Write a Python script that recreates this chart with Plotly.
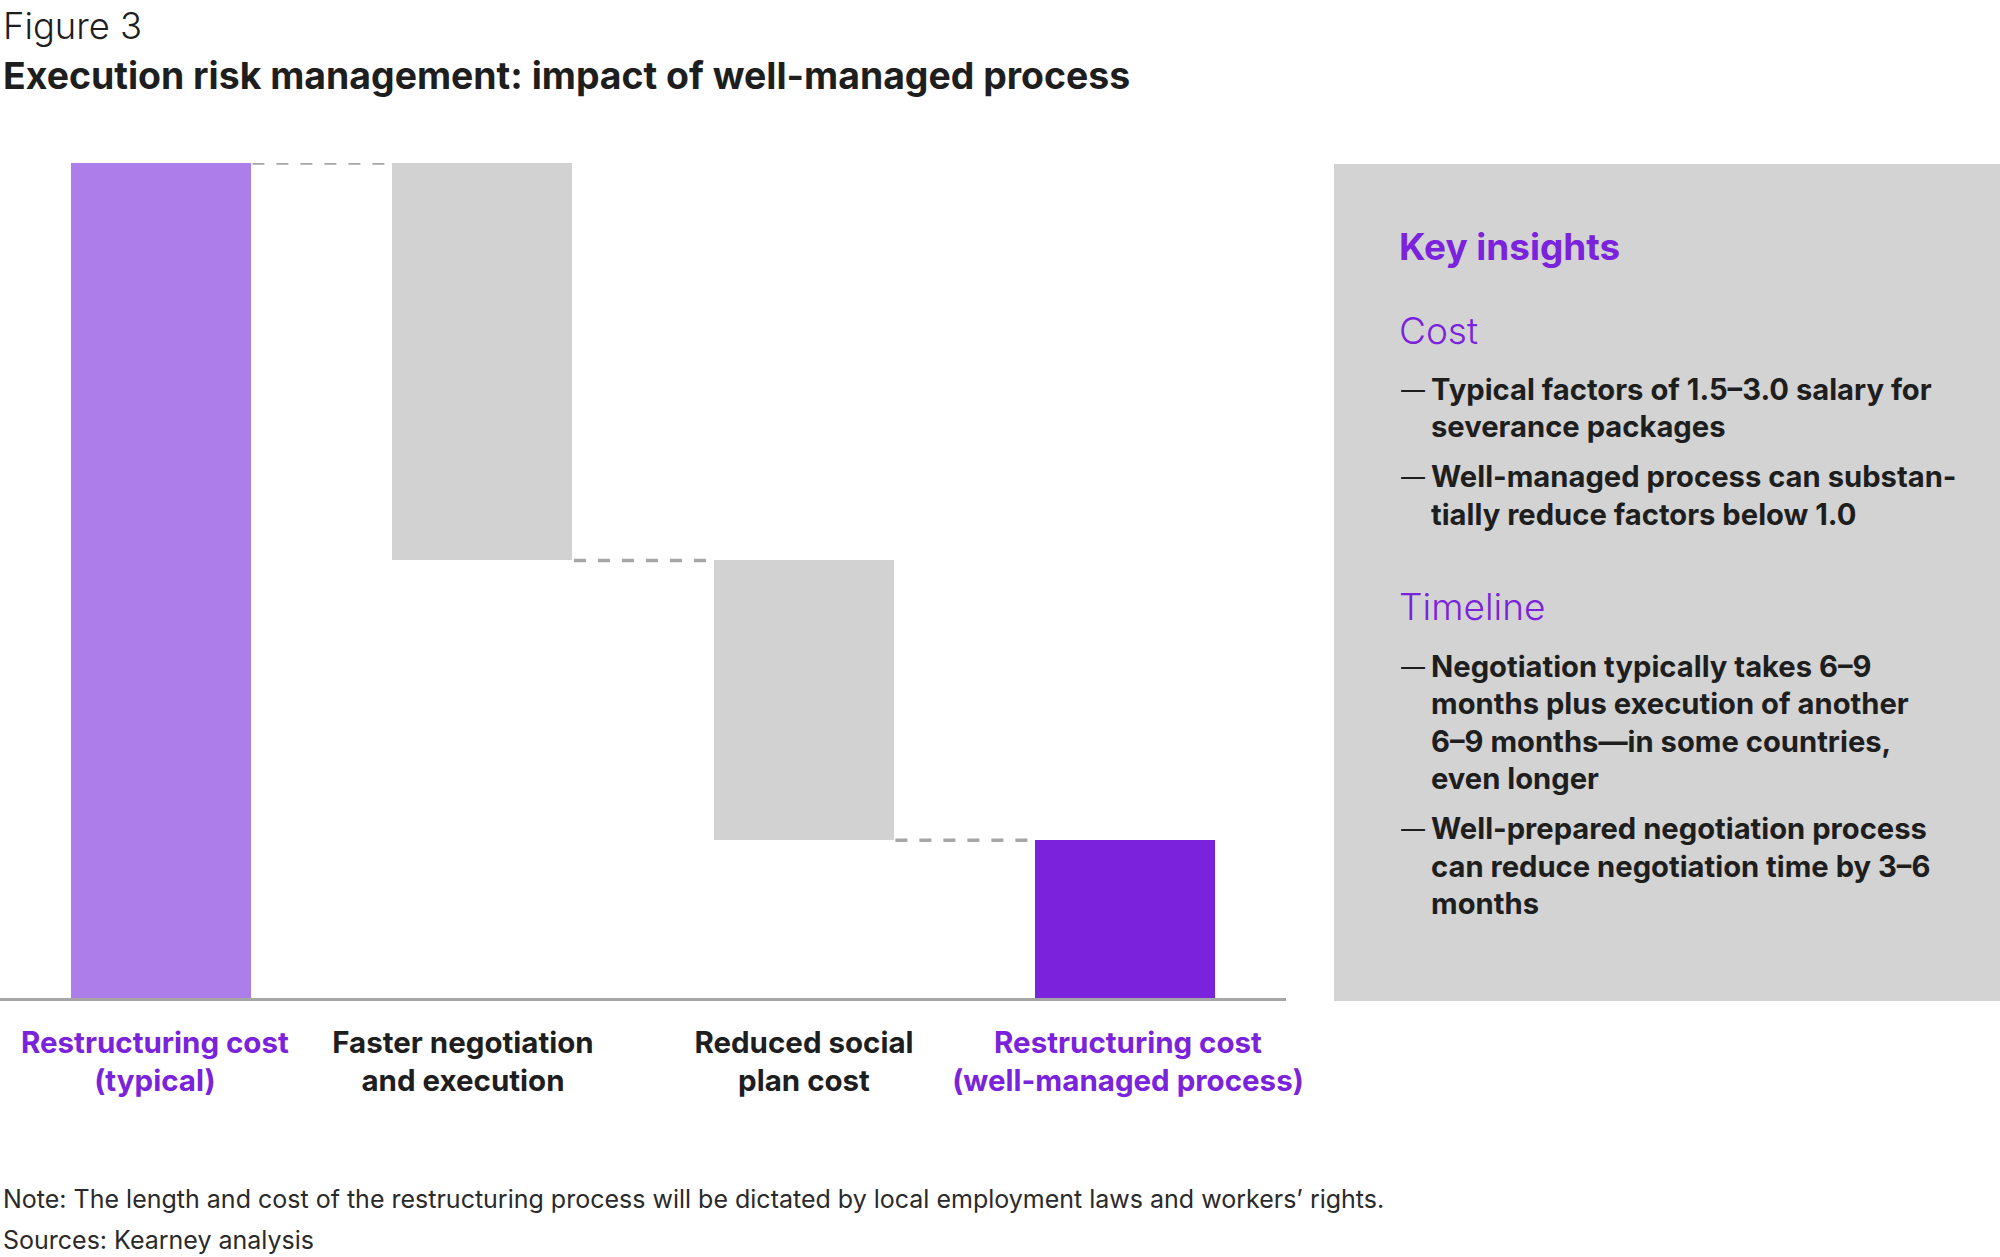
import plotly.graph_objects as go

W, H = 2000, 1257

# ---- data ----
categories = ["Restructuring cost<br>(typical)", "Faster negotiation<br>and execution",
              "Reduced social<br>plan cost", "Restructuring cost<br>(well-managed process)"]
measures = ["absolute", "relative", "relative", "total"]
values = [100, -47.6, -33.5, 18.9]
bar_colors = ["#ad7eea", "#d2d2d2", "#d2d2d2", "#7a22dc"]
label_colors = ["#7a22dc", "#1e1e1e", "#1e1e1e", "#7a22dc"]
label_shift_px = [-6, -19, 0, 3]

title_small = "Figure 3"
title_main = "Execution risk management: impact of well-managed process"
note_lines = ["Note: The length and cost of the restructuring process will be dictated by local employment laws and workers\u2019 rights.",
              "Sources: Kearney analysis"]

panel_heading = "Key insights"
sections = [
    ("Cost", [
        ["Typical factors of 1.5\u20133.0 salary for", "severance packages"],
        ["Well-managed process can substan-", "tially reduce factors below 1.0"],
    ]),
    ("Timeline", [
        ["Negotiation typically takes 6\u20139", "months plus execution of another",
         "6\u20139 months\u2014in some countries,", "even longer"],
        ["Well-prepared negotiation process", "can reduce negotiation time by 3\u20136", "months"],
    ]),
]

# ---- compute waterfall bases ----
bases, heights, levels = [], [], []
level = 0
for m, v in zip(measures, values):
    if m == "absolute":
        bases.append(0); heights.append(v); level = v
    elif m == "relative":
        new = level + v
        bases.append(min(level, new)); heights.append(abs(v)); level = new
    else:
        bases.append(0); heights.append(level)
    levels.append(level)

FONT = "Inter"
PURPLE = "#7a22dc"
DARK = "#1e1e1e"

def py(px):
    return 1 - px / H

def px_x(px):
    return px / W

xs = list(range(len(categories)))
BW = 0.56

fig = go.Figure()
fig.add_trace(go.Bar(x=xs, y=heights, base=bases, width=BW,
                     marker=dict(color=bar_colors, line=dict(width=0)),
                     showlegend=False, hoverinfo="skip"))

for i in range(len(categories) - 1):
    lv = levels[i]
    fig.add_trace(go.Scatter(x=[i + BW / 2 + 0.005, i + 1 - BW / 2 - 0.005], y=[lv, lv],
                             mode="lines", line=dict(color="#a6a6a6", width=3.5, dash="12px,12px"),
                             showlegend=False, hoverinfo="skip"))

fig.update_layout(
    width=W, height=H,
    margin=dict(l=0, r=0, t=0, b=0),
    paper_bgcolor="white", plot_bgcolor="white",
    font=dict(family=FONT, color=DARK),
    bargap=0,
    xaxis=dict(domain=[0, 1286 / W], range=[-0.5, 3.5], tickmode="array", tickvals=xs,
               showticklabels=False, showgrid=False, zeroline=False,
               showline=True, linecolor="#a6a6a6", linewidth=3, ticks="",
               automargin=False),
    yaxis=dict(domain=[py(998), py(163)], range=[0, 100], visible=False, fixedrange=True,
               automargin=False),
)

# right panel
fig.add_shape(type="rect", xref="paper", yref="paper",
              x0=px_x(1334), x1=1.0, y0=py(1001), y1=py(164),
              fillcolor="#d3d3d3", line=dict(width=0), layer="below")

ann = []
# category labels under the axis, positioned by the x axis scale
for i, (t, c, sh) in enumerate(zip(categories, label_colors, label_shift_px)):
    ann.append(dict(text=f"<b>{t}</b>", x=xs[i], xref="x", y=py(1061), yref="paper",
                    xanchor="center", yanchor="middle", xshift=sh, width=380, align="center",
                    font=dict(size=29.5, family=FONT, color=c)))

ann.append(dict(text=title_small, x=px_x(1), y=py(26), xanchor="left", yanchor="middle",
                width=300, align="left",
                font=dict(size=36.4, family=FONT, color=DARK, weight=300)))
ann.append(dict(text=f"<b>{title_main}</b>", x=px_x(1), y=py(75), xanchor="left", yanchor="middle",
                width=1200, align="left",
                font=dict(size=37.4, family=FONT, color=DARK)))

ann.append(dict(text=f"<b>{panel_heading}</b>", x=px_x(1397), y=py(246), xanchor="left", yanchor="middle",
                width=400, align="left",
                font=dict(size=36.9, family=FONT, color=PURPLE)))

LINE = 37.5
y = 330
for s_i, (sec, bullets) in enumerate(sections):
    if s_i == 1:
        y = 607
    ann.append(dict(text=sec, x=px_x(1397), y=py(y), xanchor="left", yanchor="middle",
                    width=400, align="left",
                    font=dict(size=37, family=FONT, color=PURPLE, weight=300)))
    yy = y + 59
    for b in bullets:
        ann.append(dict(text="\u2014", x=px_x(1399), y=py(yy), xanchor="left", yanchor="middle",
                        width=30, align="left",
                        font=dict(size=24, family=FONT, color=DARK)))
        for ln in b:
            ann.append(dict(text=f"<b>{ln}</b>", x=px_x(1429), y=py(yy), xanchor="left", yanchor="middle",
                            width=555, align="left",
                            font=dict(size=29.2, family=FONT, color=DARK)))
            yy += LINE
        yy += 12.5

for k, t in enumerate(note_lines):
    ann.append(dict(text=t, x=px_x(1), y=py(1199 + k * 41), xanchor="left", yanchor="middle",
                    width=1500, align="left",
                    font=dict(size=25, family=FONT, color="#2a2a2a")))

for a in ann:
    a.setdefault("xref", "paper")
    a.setdefault("yref", "paper")
    a["showarrow"] = False
fig.update_layout(annotations=ann)

fig.write_html("out.html")
